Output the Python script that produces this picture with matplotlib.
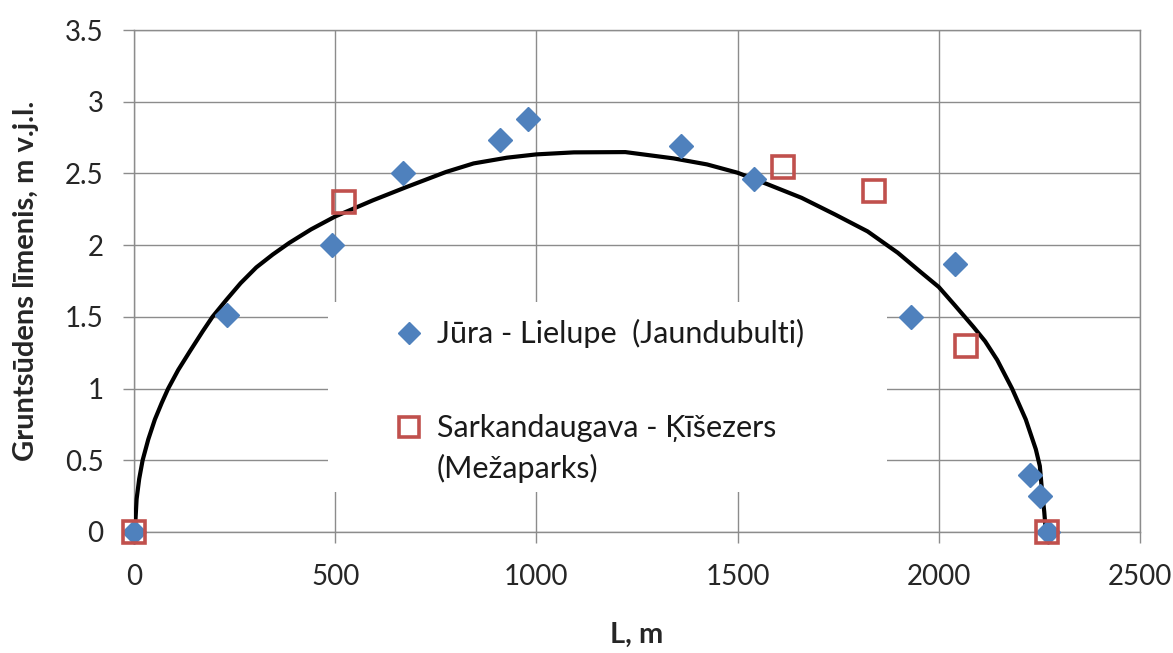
import matplotlib.pyplot as plt
from matplotlib.patches import Rectangle

# measured points, Jūra - Lielupe (Jaundubulti)
jura_x = [0, 231, 492, 668, 910, 978, 1360, 1541, 1931, 2039, 2227, 2252, 2272]
jura_y = [0, 1.51, 2.0, 2.5, 2.73, 2.88, 2.69, 2.46, 1.5, 1.87, 0.40, 0.25, 0]

# measured points, Sarkandaugava - Ķīšezers (Mežaparks)
sark_x = [0, 521, 1612, 1840, 2067, 2268]
sark_y = [0, 2.30, 2.545, 2.38, 1.30, 0]

# calculated groundwater level curve
curve_x = [0, 2.5, 6.6, 13, 21.5, 35.6, 52, 69, 85, 110, 139, 171, 195, 230,
           265, 304, 345, 386, 440, 500, 594, 676, 775, 844, 927, 1000, 1093,
           1221, 1341, 1424, 1500, 1576, 1659, 1742, 1823, 1898, 1956, 2000,
           2040, 2086, 2115, 2145, 2182, 2216, 2241, 2251, 2256, 2262, 2266]
curve_y = [0, 0.02, 0.23, 0.37, 0.5, 0.646, 0.785, 0.90, 1.0, 1.13, 1.26,
           1.40, 1.5, 1.62, 1.735, 1.845, 1.935, 2.016, 2.11, 2.20, 2.313,
           2.404, 2.51, 2.57, 2.61, 2.633, 2.647, 2.649, 2.605, 2.563, 2.505,
           2.423, 2.33, 2.214, 2.096, 1.947, 1.81, 1.708, 1.58, 1.43, 1.33,
           1.20, 1.0, 0.785, 0.577, 0.46, 0.30, 0.14, 0]

x_ticks = [0, 500, 1000, 1500, 2000, 2500]
y_ticks = [0, 0.5, 1, 1.5, 2, 2.5, 3, 3.5]
y_ticklabels = ['0', '0.5', '1', '1.5', '2', '2.5', '3', '3.5']

blue = '#4F81BD'
red = '#C0504D'
grey = '#8C8C8C'
txt = '#262626'

plt.rcParams['font.family'] = ['Lato', 'DejaVu Sans']

fig = plt.figure(figsize=(11.73, 6.53), dpi=100)
ax = fig.add_axes([0.1142, 0.1853, 0.8577, 0.7687])

ax.set_xlim(0, 2500)
ax.set_ylim(0, 3.5)
ax.set_xticks(x_ticks)
ax.set_yticks(y_ticks)
ax.set_yticklabels(y_ticklabels)
ax.grid(True, color=grey, linewidth=1.0)
ax.set_axisbelow(True)
for s in ax.spines.values():
    s.set_color(grey)
    s.set_linewidth(1.0)
ax.tick_params(direction='out', length=8, width=1.0, color=grey,
               labelsize=20, labelcolor=txt)
ax.tick_params(axis='x', pad=15)
ax.tick_params(axis='y', pad=14)

ax.plot(curve_x, curve_y, color='black', linewidth=3.0, zorder=3,
        solid_joinstyle='round', solid_capstyle='round')
ax.plot(jura_x, jura_y, linestyle='none', marker='D', markersize=12.5,
        color=blue, markeredgecolor=blue, zorder=4, clip_on=False)
ax.plot(sark_x, sark_y, linestyle='none', marker='s', markersize=16,
        markerfacecolor='none', markeredgecolor=red, markeredgewidth=2.6,
        zorder=5, clip_on=False)

# legend box drawn by hand so the marker sits on the first text line
ax.add_patch(Rectangle((0.193, 0.079), 0.555, 0.379, transform=ax.transAxes,
                       facecolor='white', edgecolor='none', zorder=2))
ax.plot([0.273], [0.396], transform=ax.transAxes, marker='D', markersize=11,
        color=blue, linestyle='none', zorder=6)
ax.plot([0.273], [0.210], transform=ax.transAxes, marker='s', markersize=15,
        markerfacecolor='none', markeredgecolor=red, markeredgewidth=2.6,
        linestyle='none', zorder=6)
legend_kw = dict(transform=ax.transAxes, fontsize=22, va='center', ha='left',
                 color='#1A1A1A', zorder=6)
ax.text(0.301, 0.396, 'Jūra - Lielupe  (Jaundubulti)', **legend_kw)
ax.text(0.301, 0.207, 'Sarkandaugava - Ķīšezers', **legend_kw)
ax.text(0.301, 0.127, '(Mežaparks)', **legend_kw)

ax.set_xlabel('L, m', fontsize=21, fontweight='bold', color=txt)
ax.set_ylabel('Gruntsūdens līmenis, m v.j.l.', fontsize=21,
              fontweight='bold', color=txt)
ax.xaxis.set_label_coords(0.5, -0.18)
ax.yaxis.set_label_coords(-0.094, 0.5)

fig.savefig('out.png', dpi=100)
